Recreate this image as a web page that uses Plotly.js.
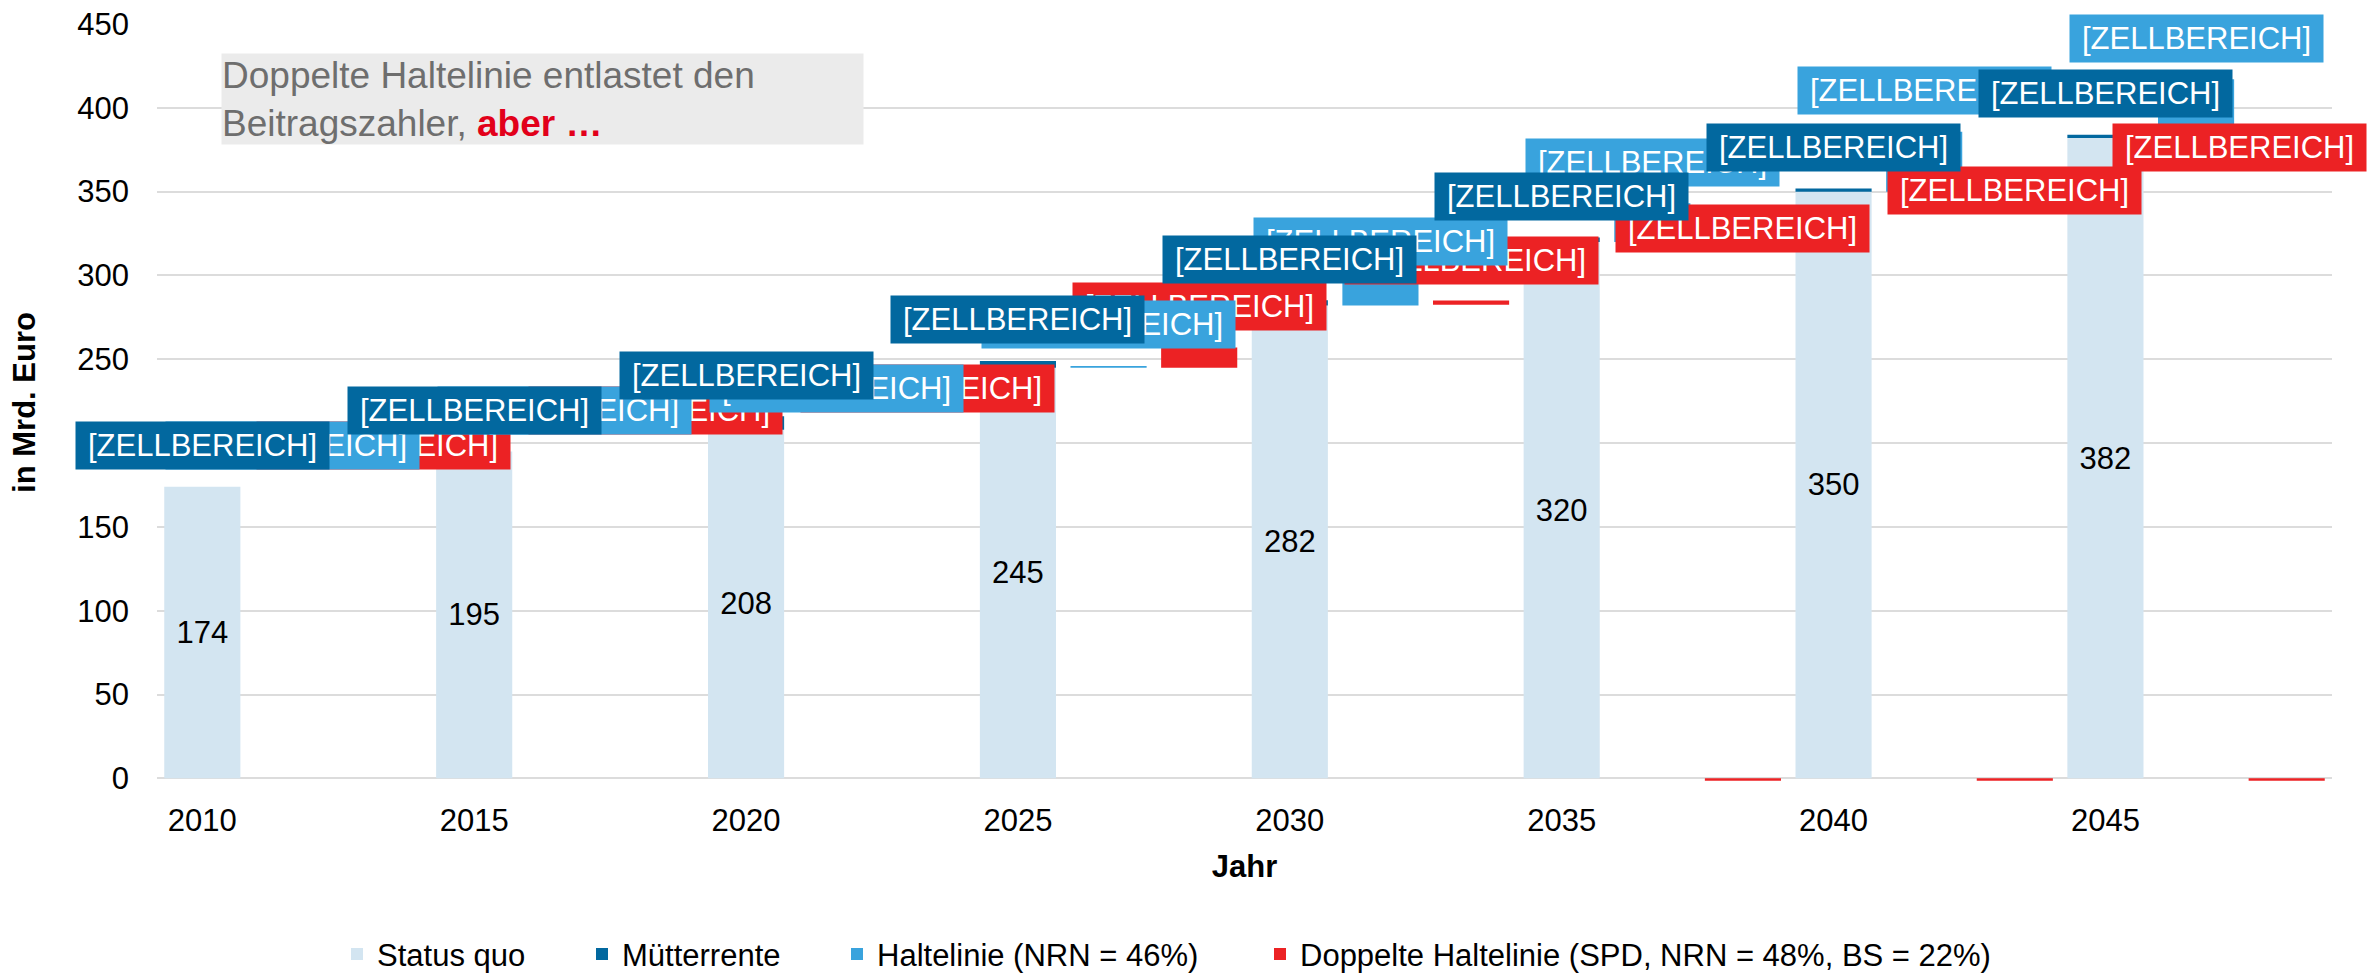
<!DOCTYPE html>
<html>
<head>
<meta charset="utf-8">
<script src="https://cdn.plot.ly/plotly-3.0.1.min.js"></script>
<style>
  html, body { margin: 0; padding: 0; background: #ffffff; }
  #chart { width: 2379px; height: 973px; }
</style>
</head>
<body>
<div id="chart"></div>
<script>
// ---------------- data ----------------
const years = [2010, 2015, 2020, 2025, 2030, 2035, 2040, 2045];
const statusQuo = [174, 195, 208, 245, 282, 320, 350, 382];
const muetterrente = [0, 0, 8, 4, 3.2, 2.6, 1.8, 2];
const haltelinie = [0, 0, 0, 1, 14, 23, 35.7, 35];
const doppeltBasis = [174, 195, 208, 245, 282.5, 0, 0, 0];
const doppelt = [0, 0, 0, 12, 2.5, -1.5, -1.5, -1.5];
const seriesNames = [
  'Status quo',
  'Mütterrente',
  'Haltelinie (NRN = 46%)',
  'Doppelte Haltelinie (SPD, NRN = 48%, BS = 22%)'
];
const cellLabelText = '[ZELLBEREICH]';
const yTickValues = [0, 50, 100, 150, 200, 250, 300, 350, 400, 450];

// ---------------- layout / style settings ----------------
const W = 2379, H = 973;
const M = { l: 157, r: 47, t: 23.5, b: 191.5, autoexpand: false };
const plotW = W - M.l - M.r;
const plotH = H - M.t - M.b;
const FONT = 'Liberation Sans, Arial, Helvetica, sans-serif';
const colors = { sq: '#d3e5f1', mr: '#02689f', hl: '#39a3dd', dhl: '#ec2224' };
const barW = 0.84;
const labelLift = 24.5;               // label anchor above the top of its segment (data units)
const dhlLabelAt = [198.5, 219.5, 232.5, 281.5, 309, 328, 350.5, 376.5]; // red label anchors
const labelW = 253, labelH = 46.7;
const chartRightPx = 2366;            // labels are kept inside the chart area

const nSlots = years.length * 3;
const sqX = years.map((_, i) => i * 3);
const hlX = years.map((_, i) => i * 3 + 1);
const dhlX = years.map((_, i) => i * 3 + 2);
const slotPx = s => M.l + (s + 0.5) * plotW / nSlots;

const traces = [
  {
    type: 'bar', name: seriesNames[0], x: sqX, y: statusQuo, base: 0, width: barW,
    marker: { color: colors.sq },
    text: statusQuo.map(String), textposition: 'inside', insidetextanchor: 'middle',
    textangle: 0, constraintext: 'none',
    textfont: { family: FONT, size: 31, color: '#000000' },
    legend: 'legend', hoverinfo: 'skip'
  },
  {
    type: 'bar', name: seriesNames[1], x: sqX, y: muetterrente, base: statusQuo, width: barW,
    marker: { color: colors.mr }, legend: 'legend2', hoverinfo: 'skip'
  },
  {
    type: 'bar', name: seriesNames[2], x: hlX, y: haltelinie, base: statusQuo, width: barW,
    marker: { color: colors.hl }, legend: 'legend3', hoverinfo: 'skip'
  },
  {
    type: 'bar', name: seriesNames[3], x: dhlX, y: doppelt, base: doppeltBasis, width: barW,
    marker: { color: colors.dhl }, legend: 'legend4', hoverinfo: 'skip'
  }
];

function cellLabel(x, y, color, xshift) {
  return {
    xref: 'x', yref: 'y', x: x, y: y, xanchor: 'center', yanchor: 'middle',
    xshift: xshift || 0,
    text: cellLabelText, showarrow: false,
    width: labelW, height: labelH, borderpad: 0, bgcolor: color,
    font: { family: FONT, size: 31, color: '#ffffff' }
  };
}

const annotations = [];
// red labels (lowest layer)
years.forEach((_, i) => {
  const right = slotPx(dhlX[i]) + labelW / 2;
  const shift = Math.min(0, chartRightPx - right);
  annotations.push(cellLabel(dhlX[i], dhlLabelAt[i], colors.dhl, shift));
});
// Haltelinie labels
years.forEach((_, i) => {
  annotations.push(cellLabel(hlX[i], statusQuo[i] + haltelinie[i] + labelLift, colors.hl));
});
// Mütterrente labels (top layer)
years.forEach((_, i) => {
  annotations.push(cellLabel(sqX[i], statusQuo[i] + muetterrente[i] + labelLift, colors.mr));
});
// text box
annotations.push({
  xref: 'paper', yref: 'paper',
  x: (221 - M.l) / plotW, y: (M.t + plotH - 52.3) / plotH,
  xanchor: 'left', yanchor: 'top', align: 'left', valign: 'middle',
  showarrow: false, width: 641, height: 90.4, borderpad: 0, bgcolor: '#ebebeb',
  text: 'Doppelte Haltelinie entlastet den<br>Beitragszahler, <b><span style="color:#e2001a">aber …</span></b>',
  font: { family: FONT, size: 37, color: '#6e6e6e' }
});

const legendY = (M.t + plotH - 955) / plotH;
function legendAt(px) {
  return {
    orientation: 'h', x: (px - M.l) / plotW, xanchor: 'left', y: legendY, yanchor: 'middle',
    bgcolor: 'rgba(0,0,0,0)', borderwidth: 0,
    font: { family: FONT, size: 31, color: '#000000' }
  };
}

const layout = {
  width: W, height: H, margin: M,
  paper_bgcolor: '#ffffff', plot_bgcolor: '#ffffff',
  font: { family: FONT, size: 31, color: '#000000' },
  barmode: 'overlay',
  showlegend: true,
  xaxis: {
    range: [-0.5, nSlots - 0.5],
    tickmode: 'array', tickvals: sqX, ticktext: years.map(String),
    showgrid: false, zeroline: false, showline: false, ticks: '',
    tickfont: { family: FONT, size: 31, color: '#000000' },
    ticklabelstandoff: 18,
    title: { text: '<b>Jahr</b>', font: { family: FONT, size: 31, color: '#000000' }, standoff: 18 },
    fixedrange: true
  },
  yaxis: {
    range: [-1.6, 450],
    tickmode: 'array', tickvals: yTickValues,
    showgrid: true, gridcolor: '#dcdcdc', gridwidth: 2,
    zeroline: false, showline: false, ticks: '',
    tickfont: { family: FONT, size: 31, color: '#000000' },
    ticklabelstandoff: 27,
    title: { text: '<b>in Mrd. Euro</b>', font: { family: FONT, size: 31, color: '#000000' }, standoff: 32 },
    fixedrange: true
  },
  legend: legendAt(337),
  legend2: legendAt(582),
  legend3: legendAt(837),
  legend4: legendAt(1260),
  annotations: annotations,
  hovermode: false
};

Plotly.newPlot('chart', traces, layout, { displayModeBar: false, staticPlot: true });
</script>
</body>
</html>
